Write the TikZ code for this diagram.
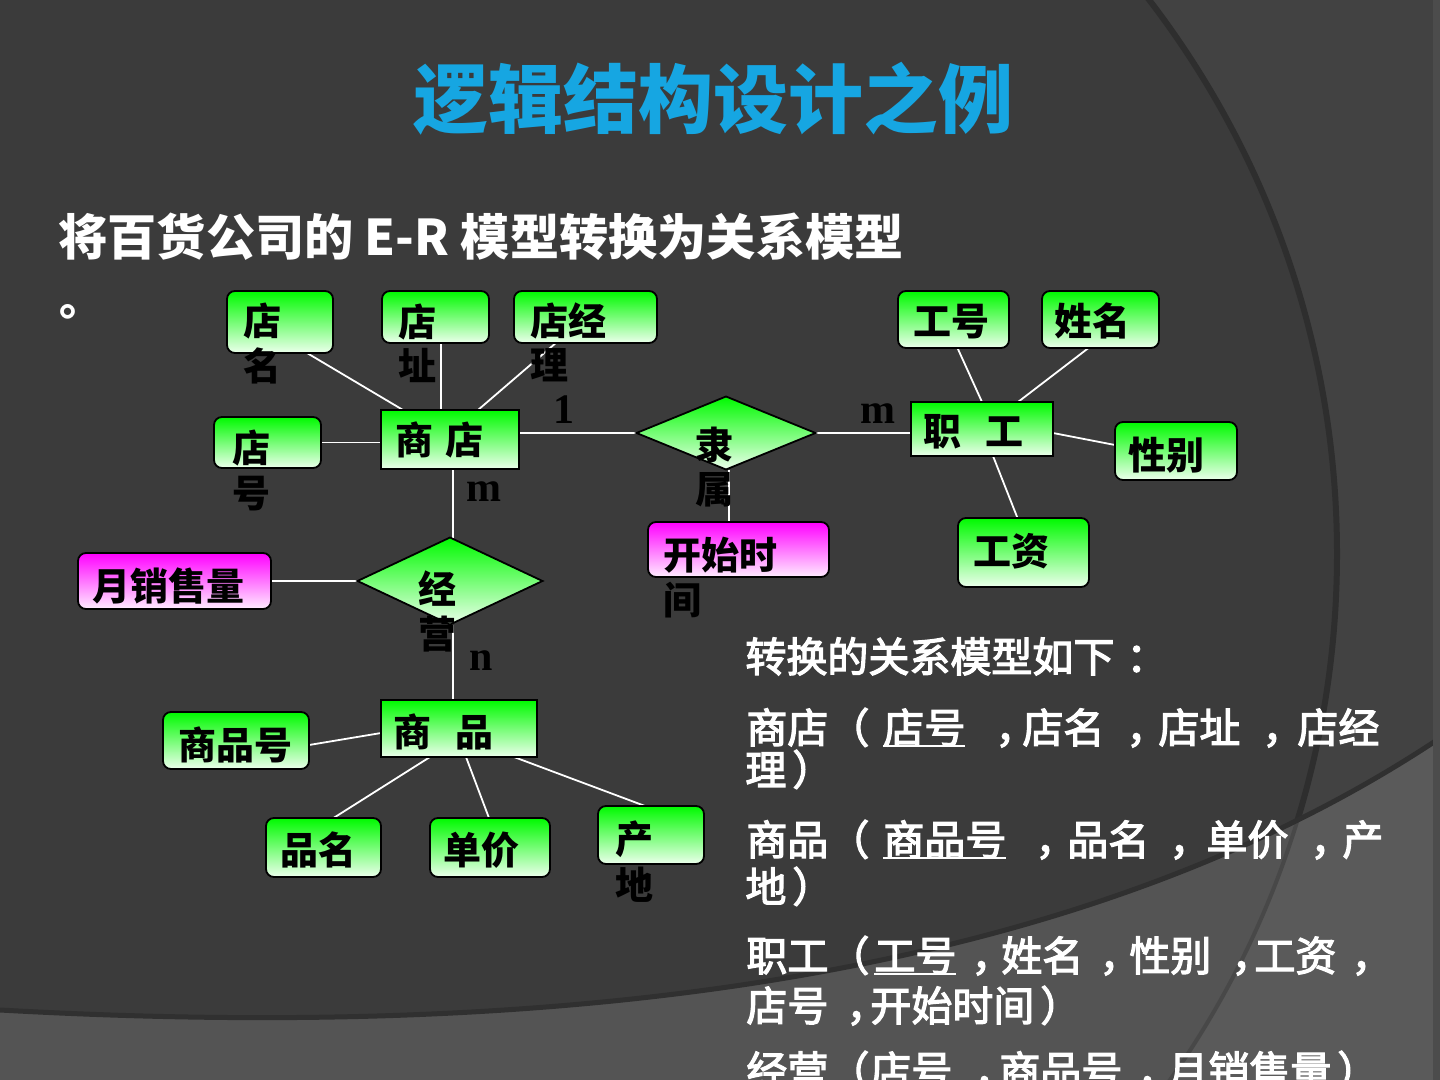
\documentclass[tikz,border=0pt]{standalone}
\usepackage{fontspec}
\newfontfamily\cjk{Noto Sans CJK SC}
\newfontfamily\cjkm{Noto Sans CJK SC}[FakeBold=3]
\newfontfamily\tnr{Liberation Serif}
\usetikzlibrary{shapes.geometric,calc}
\pgfdeclarelayer{bgl}
\pgfdeclarelayer{lnl}
\pgfsetlayers{bgl,lnl,main}
\definecolor{bgmain}{RGB}{59,59,59}
\definecolor{bgright}{RGB}{66,66,66}
\definecolor{bglow}{RGB}{84,84,84}
\definecolor{bglowr}{RGB}{90,90,90}
\definecolor{arcline}{RGB}{46,46,46}
\definecolor{arclow}{RGB}{72,72,72}
\definecolor{shadowc}{RGB}{48,48,48}
\definecolor{stripc}{RGB}{76,76,76}
\definecolor{titlecol}{RGB}{22,166,226}
\definecolor{gtop}{RGB}{0,250,0}
\definecolor{gbot}{RGB}{236,255,236}
\definecolor{mtop}{RGB}{255,0,255}
\definecolor{mbot}{RGB}{255,236,255}
\newcommand\putat[2]{\makebox[0pt][l]{\hspace{#1pt}#2}}
\newcommand\uln[1]{\setbox0\hbox{#1}\rlap{\rule[-2pt]{\wd0}{1pt}}\box0}
\tikzset{
  ent/.style 2 args={draw=black, line width=0.9pt, top color=gtop, bottom color=gbot,
    minimum width=#1*0.5pt, minimum height=#2*0.5pt, inner sep=0pt, outer sep=0pt},
  attr/.style 2 args={ent={#1}{#2}, rounded corners=4pt},
  mattr/.style 2 args={attr={#1}{#2}, top color=mtop, bottom color=mbot},
  rel/.style 2 args={diamond, aspect=2.4, draw=black, line width=0.9pt, top color=gtop,
    bottom color=gbot, minimum width=#1*0.5pt, minimum height=#2*0.5pt, inner sep=0pt, outer sep=0pt},
  lbl/.style={font=\cjk\bfseries\fontsize{19}{22}\selectfont, text=black, inner sep=0pt},
  lblw/.style={lbl, anchor=base west},
  lblc/.style={lbl, anchor=base},
  card/.style={font=\tnr\bfseries\fontsize{21}{24}\selectfont, text=black, inner sep=0pt, anchor=base},
  rtxt/.style={font=\cjkm\fontsize{20.5}{24}\selectfont, text=white, inner sep=0pt, anchor=base west},
  conn/.style={draw=white, line width=0.9pt},
}
\begin{document}
\begin{tikzpicture}[x=0.5pt,y=-0.5pt]
\useasboundingbox (0,0) rectangle (1440,1080);
\clip (0,0) rectangle (1440,1080);
% ---------- background ----------
\begin{pgfonlayer}{bgl}
\fill[bgmain] (-10,-10) rectangle (1450,1090);
\fill[bgright, even odd rule] (-10,-10) rectangle (1450,1090) (426,554) circle[radius=911];
\draw[arcline, line width=3pt] (426,554) circle[radius=911];
\fill[bglow] (-10,1012) -- (0,1012) .. controls (500,1040) and (1050,1000) .. (1440,740)
  -- (1450,740) -- (1450,1090) -- (-10,1090) -- cycle;
\begin{scope}
  \clip (-10,1012) -- (0,1012) .. controls (500,1040) and (1050,1000) .. (1440,740)
    -- (1450,740) -- (1450,1090) -- (-10,1090) -- cycle;
  \fill[bglowr, even odd rule] (-10,-10) rectangle (1450,1090) (426,554) circle[radius=911];
  \draw[arclow, line width=2pt] (426,554) circle[radius=911];
\end{scope}
\draw[shadowc, line width=2.5pt] (-10,1010) -- (0,1010) .. controls (500,1038) and (1050,998) .. (1440,738);
\fill[stripc] (1433,-10) rectangle (1450,1090);
\end{pgfonlayer}
% ---------- title ----------
\node[font=\cjk\bfseries\fontsize{37.5}{40}\selectfont, text=titlecol, anchor=base, inner sep=0pt]
  (title) at (713,128) {逻辑结构设计之例};
\node[font=\cjk\bfseries\fontsize{24.6}{30}\selectfont, text=white, anchor=base west, inner sep=0pt]
  (sub) at (58,256) {将百货公司的 E-R 模型转换为关系模型};
\node[font=\cjk\bfseries\fontsize{22}{30}\selectfont, text=white, anchor=base west, inner sep=0pt]
  (subdot) at (59,316) {。};
% ---------- entities ----------
\node[ent={138}{59}] (sd) at (450,439.5) {};
\node[ent={142}{54}] (zg) at (982,429) {};
\node[ent={156}{57}] (sp) at (459,728.5) {};
% ---------- attributes ----------
\node[attr={106}{62}] (dm) at (280,322) {};
\node[attr={107}{52}] (dz) at (435.5,317) {};
\node[attr={143}{52}] (dj) at (585.5,317) {};
\node[attr={107}{51}] (dh) at (267.5,442.5) {};
\node[attr={111}{57}] (gh) at (953.5,319.5) {};
\node[attr={117}{57}] (xm) at (1100.5,319.5) {};
\node[attr={122}{58}] (xb) at (1176,451) {};
\node[attr={131}{69}] (gz) at (1023.5,552.5) {};
\node[mattr={193}{56}] (yx) at (174.5,581) {};
\node[mattr={181}{55}] (ks) at (738.5,549.5) {};
\node[attr={146}{57}] (sph) at (236,740.5) {};
\node[attr={115}{59}] (pm) at (323.5,847.5) {};
\node[attr={120}{59}] (dj2) at (490,847.5) {};
\node[attr={106}{58}] (cd) at (651,835) {};
% ---------- relationships ----------
\node[rel={179}{73}] (ls) at (726,433) {};
\node[rel={185}{87}] (jy) at (450,581) {};
% ---------- connectors ----------
\begin{pgfonlayer}{lnl}
\draw[conn] ($(dm.south)+(27,0)$) -- ($(sd.north)+(-47,0)$);
\draw[conn] ($(dz.south)+(5.5,0)$) -- ($(sd.north)+(-9,0)$);
\draw[conn] ($(dj.south)+(-25,-4)$) -- ($(sd.north)+(28,0)$);
\draw[conn] (dh.east) -- (dh.east -| sd.west);
\draw[conn] (ls.west -| sd.east) -- (ls.west);
\draw[conn] (ls.east) -- (ls.east -| zg.west);
\coordinate (c7) at ($(ls.south)+(3,0)$);
\draw[conn] (c7) -- (c7 |- ks.north);
\draw[conn] ($(gh.south)+(4,0)$) -- (zg.north);
\draw[conn] ($(xm.south)+(-12,0)$) -- ($(zg.north)+(36,0)$);
\draw[conn] ($(zg.east)+(0,4)$) -- ($(xb.west)+(0,-6)$);
\draw[conn] ($(zg.south)+(11,0)$) -- ($(gz.north)+(-6,0)$);
\coordinate (c12) at ($(sd.south)+(3,0)$);
\draw[conn] (c12) -- (c12 |- jy.north);
\draw[conn] (yx.east) -- (jy.west);
\coordinate (c14) at ($(jy.south)+(3,0)$);
\draw[conn] (c14) -- (c14 |- sp.north);
\draw[conn] ($(sph.east)+(0,4.5)$) -- ($(sp.west)+(0,4.5)$);
\draw[conn] ($(sp.south)+(-29,0)$) -- ($(pm.north)+(10,0)$);
\draw[conn] ($(sp.south)+(7,0)$) -- ($(dj2.north)+(-1,0)$);
\draw[conn] ($(sp.south)+(55,0)$) -- ($(cd.north)+(-6,0)$);
\end{pgfonlayer}
% ---------- labels ----------
\node[lblw] (t1a) at (243,336) {店};
\node[lblw] (t1b) at (243,381) {名};
\node[lblw] (t2a) at (398,337) {店};
\node[lblw] (t2b) at (398,381) {址};
\node[lblw] (t3a) at (530,336) {店经};
\node[lblw] (t3b) at (530,380) {理};
\node[lblw] (t4a) at (232,463) {店};
\node[lblw] (t4b) at (232,507) {号};
\node[lblw] (t5) at (395,454) {商\hspace{6pt}店};
\node[lblw] (t6) at (923,445) {职\hspace{12pt}工};
\node[lblw] (t7) at (393,746) {商\hspace{12pt}品};
\node[lblc] (t8) at (951,336) {工号};
\node[lblc] (t9) at (1092,336) {姓名};
\node[lblc] (t10) at (1166,469) {性别};
\node[lblc] (t11) at (1011,565) {工资};
\node[lblc] (t12) at (168,600) {月销售量};
\node[lblw] (t13a) at (663,569) {开始时};
\node[lblw] (t13b) at (663,614) {间};
\node[lblw] (t14a) at (695,459) {隶};
\node[lblw] (t14b) at (695,503) {属};
\node[lblw] (t15a) at (418,603) {经};
\node[lblw] (t15b) at (418,648) {营};
\node[lblc] (t16) at (235,759) {商品号};
\node[lblc] (t17) at (318,864) {品名};
\node[lblc] (t18) at (481,864) {单价};
\node[lblw] (t19a) at (615,853) {产};
\node[lblw] (t19b) at (615,899) {地};
% ---------- cardinalities ----------
\node[card] (k1) at (564,423) {1};
\node[card] (k2) at (878,423) {m};
\node[card] (k3) at (484,502) {m};
\node[card] (k4) at (481,670) {n};
% ---------- relational schema ----------
\node[rtxt] (r1) at (745,672) {转换的关系模型如下\hspace{6pt}：};
\node[rtxt] (r2) at (745,743) {\putat{0}{商店（}\putat{68.5}{\uln{店号}}\putat{124.5}{，}\putat{138}{店名}\putat{190}{，}\putat{206}{店址}\putat{258}{，}\putat{275.5}{店经}};
\node[rtxt] (r3) at (745,785) {理\hspace{3pt}）};
\node[rtxt] (r4) at (745,855) {\putat{0}{商品（}\putat{68.5}{\uln{商品号}}\putat{144.5}{，}\putat{160.5}{品名}\putat{211.5}{，}\putat{230}{单价}\putat{282}{，}\putat{298}{产}};
\node[rtxt] (r5) at (745,902) {地\hspace{3pt}）};
\node[rtxt] (r6) at (745,971) {\putat{0}{职工（}\putat{64}{\uln{工号}}\putat{112.5}{，}\putat{127.5}{姓名}\putat{176.5}{，}\putat{191.5}{性别}\putat{242.5}{，}\putat{254}{工资}\putat{302.5}{，}};
\node[rtxt] (r7) at (745,1021) {\putat{0}{店号}\putat{50}{，}\putat{62}{开始时间\hspace{3pt}）}};
\node[rtxt] (r8) at (745,1086) {\putat{0}{经营（}\putat{62}{店号}\putat{114}{，}\putat{126.5}{商品号}\putat{195.5}{，}\putat{210.5}{月销售量\hspace{3pt}）}};
\end{tikzpicture}
\end{document}
